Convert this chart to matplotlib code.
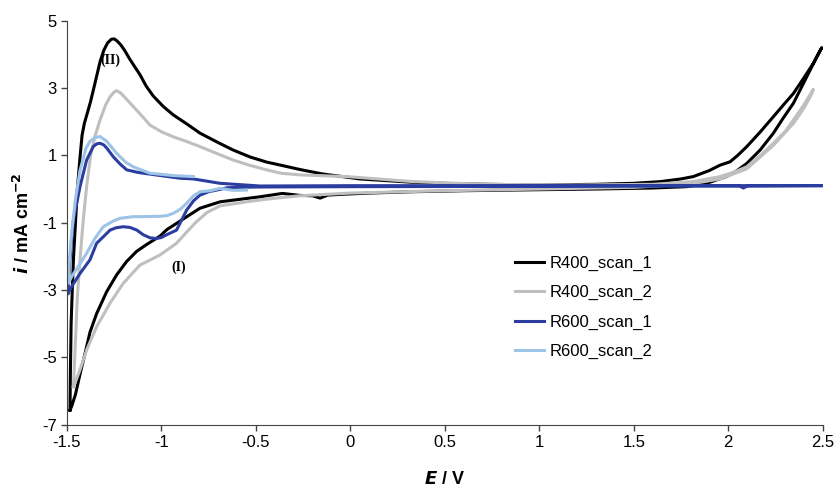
import matplotlib
matplotlib.use("Agg")
import matplotlib.pyplot as plt
from matplotlib.ticker import FuncFormatter

plt.rcParams["font.family"] = ["Liberation Sans", "DejaVu Sans"]
plt.rcParams["axes.unicode_minus"] = False

# ── Data (E in V, i in mA cm-2), each loop as one path ───────────────────────
r400_1_E = [-1.484, -1.482, -1.478, -1.472, -1.465, -1.455, -1.445, -1.43, -1.42, -1.408,
            -1.39, -1.375, -1.36, -1.343, -1.325, -1.305, -1.285, -1.265, -1.25, -1.235,
            -1.215, -1.195, -1.17, -1.14, -1.114, -1.08, -1.043,
            -0.99, -0.937, -0.87, -0.796, -0.7, -0.621, -0.53, -0.443, -0.37, -0.267,
            -0.15, 0.05, 0.33, 0.6, 1.0, 1.3, 1.5, 1.64, 1.75, 1.815, 1.9, 1.957, 2.01,
            2.05, 2.098, 2.17, 2.239, 2.3, 2.345, 2.4, 2.45, 2.495,
            2.469, 2.416, 2.345, 2.29, 2.239, 2.169, 2.098, 2.04, 1.99, 1.886, 1.78, 1.6,
            1.3, 1.0, 0.6, 0.33, 0.1, -0.02, -0.12, -0.16, -0.2, -0.267, -0.36, -0.478,
            -0.62, -0.69, -0.796, -0.86, -0.92, -0.97, -1.008, -1.079, -1.131, -1.184,
            -1.237, -1.29, -1.343, -1.378, -1.405, -1.431, -1.455, -1.475, -1.484]
r400_1_i = [-6.57, -5.5, -4.0, -3.0, -2.0, -1.0, 0.0, 1.0, 1.6, 1.95,
            2.3, 2.6, 2.95, 3.35, 3.78, 4.12, 4.34, 4.45, 4.46, 4.4,
            4.28, 4.12, 3.88, 3.62, 3.4, 3.05, 2.76,
            2.45, 2.2, 1.95, 1.66, 1.38, 1.16, 0.95, 0.8, 0.71, 0.58,
            0.45, 0.3, 0.2, 0.15, 0.12, 0.14, 0.17, 0.22, 0.3, 0.37, 0.55, 0.71, 0.81,
            1.0, 1.26, 1.7, 2.15, 2.55, 2.84, 3.3, 3.73, 4.2,
            3.93, 3.34, 2.55, 2.1, 1.66, 1.16, 0.76, 0.52, 0.37, 0.17, 0.07, 0.03,
            0.0, -0.02, -0.05, -0.08, -0.12, -0.15, -0.18, -0.27, -0.2, -0.19, -0.13, -0.23,
            -0.33, -0.38, -0.57, -0.8, -1.02, -1.2, -1.4, -1.65, -1.85, -2.15,
            -2.55, -3.05, -3.7, -4.25, -4.9, -5.5, -6.1, -6.45, -6.57]

r400_2_E = [-1.466, -1.455, -1.445, -1.431, -1.415, -1.396, -1.375, -1.35, -1.325, -1.295,
            -1.272, -1.25, -1.237, -1.215, -1.19, -1.149, -1.1, -1.061, -1.0, -0.937, -0.87,
            -0.796, -0.7, -0.62, -0.53, -0.443, -0.37, -0.267, -0.02, 0.332, 0.7, 1.2,
            1.6, 1.815, 1.957, 2.03, 2.098, 2.17, 2.239, 2.3, 2.345, 2.4, 2.45,
            2.44, 2.4, 2.345, 2.239, 2.098, 1.957, 1.8, 1.5, 1.0, 0.5, 0.0, -0.267,
            -0.443, -0.55, -0.69, -0.76, -0.82, -0.87, -0.92, -1.008, -1.114, -1.202,
            -1.272, -1.343, -1.396, -1.431, -1.458, -1.466]
r400_2_i = [-5.87, -4.5, -3.2, -2.1, -1.0, 0.07, 1.0, 1.6, 2.05, 2.5,
            2.74, 2.88, 2.92, 2.85, 2.7, 2.45, 2.15, 1.9, 1.7, 1.55, 1.42,
            1.26, 1.04, 0.86, 0.7, 0.57, 0.47, 0.42, 0.37, 0.22, 0.14, 0.12,
            0.14, 0.22, 0.37, 0.5, 0.66, 1.0, 1.36, 1.7, 2.05, 2.5, 2.96,
            2.8, 2.4, 1.95, 1.3, 0.6, 0.3, 0.15, 0.05, 0.0, -0.05, -0.12, -0.2,
            -0.3, -0.38, -0.5, -0.7, -1.0, -1.3, -1.61, -1.96, -2.26, -2.8,
            -3.39, -4.09, -4.78, -5.37, -5.77, -5.87]

r600_1_E = [-1.495, -1.49, -1.484, -1.466, -1.431, -1.396, -1.361, -1.343, -1.325, -1.305,
            -1.29, -1.255, -1.22, -1.184, -1.13, -1.096, -0.9, -0.831, -0.69, -0.478, 0.0,
            1.0, 2.0, 2.5,
            2.1, 2.08, 2.06, 1.5, 1.0, 0.0, -0.5, -0.65, -0.707, -0.75, -0.796, -0.83,
            -0.866, -0.92, -0.973, -1.0, -1.026, -1.06, -1.096, -1.13, -1.167, -1.202,
            -1.24, -1.272, -1.308, -1.343, -1.378, -1.43, -1.47, -1.495]
r600_1_i = [-3.1, -2.6, -2.1, -0.92, 0.07, 0.86, 1.26, 1.34, 1.36, 1.31,
            1.22, 0.96, 0.75, 0.57, 0.5, 0.47, 0.32, 0.3, 0.17, 0.09, 0.1,
            0.1, 0.1, 0.1,
            0.09, 0.03, 0.09, 0.09, 0.08, 0.07, 0.06, 0.04, -0.03, -0.08, -0.18, -0.35,
            -0.62, -1.22, -1.36, -1.44, -1.47, -1.45, -1.36, -1.22, -1.14, -1.12,
            -1.15, -1.22, -1.42, -1.61, -2.1, -2.5, -2.85, -3.1]

r600_2_E = [-0.55, -0.62, -0.69, -0.74, -0.796, -0.83, -0.866, -0.9, -0.937, -0.97,
            -1.008, -1.096, -1.149, -1.22, -1.255, -1.308, -1.35, -1.396, -1.44, -1.475,
            -1.493, -1.488, -1.475, -1.455, -1.431, -1.40, -1.378, -1.35, -1.325, -1.29,
            -1.237, -1.19, -1.149, -1.061, -0.937, -0.831]
r600_2_i = [-0.03, -0.04, 0.02, -0.05, -0.08, -0.2, -0.42, -0.6, -0.72, -0.79,
            -0.81, -0.82, -0.82, -0.87, -0.95, -1.12, -1.45, -1.91, -2.3, -2.6,
            -2.8, -2.2, -1.3, -0.3, 0.55, 1.2, 1.42, 1.53, 1.56, 1.42,
            1.06, 0.8, 0.66, 0.47, 0.4, 0.37]

series = [
    ("R400_scan_1", r400_1_E, r400_1_i, "#000000"),
    ("R400_scan_2", r400_2_E, r400_2_i, "#BFBFBF"),
    ("R600_scan_1", r600_1_E, r600_1_i, "#2B3EA0"),
    ("R600_scan_2", r600_2_E, r600_2_i, "#9DC3E6"),
]

fig = plt.figure(figsize=(8.35, 4.88), dpi=100)
ax = fig.add_axes([0.0802, 0.1297, 0.9051, 0.8279])

for name, E, i, c in series:
    ax.plot(E, i, color=c, lw=2.2, label=name, solid_joinstyle="round")

ax.set_xlim(-1.5, 2.5)
ax.set_ylim(-7, 5)
ax.set_xticks([-1.5, -1, -0.5, 0, 0.5, 1, 1.5, 2, 2.5])
ax.set_yticks([-7, -5, -3, -1, 1, 3, 5])
ax.xaxis.set_major_formatter(FuncFormatter(lambda v, p: f"{v:g}"))
ax.yaxis.set_major_formatter(FuncFormatter(lambda v, p: f"{v:g}"))
ax.tick_params(direction="out", length=4, width=1, color="#444444", labelsize=12)
for sp in ["top", "right"]:
    ax.spines[sp].set_visible(False)
for sp in ["bottom", "left"]:
    ax.spines[sp].set_color("#444444")

ax.set_xlabel(r"$\boldsymbol{E}$ / V", fontsize=13, fontweight="bold", labelpad=15)
ax.set_ylabel(r"$\boldsymbol{i}$ / mA cm$^{\mathbf{-2}}$", fontsize=13, fontweight="bold", labelpad=6)

ax.text(-1.272, 3.83, "(II)", family="Liberation Serif", fontweight="bold", fontsize=10,
        ha="center", va="center")
ax.text(-0.911, -2.31, "(I)", family="Liberation Serif", fontweight="bold", fontsize=10,
        ha="center", va="center")

ax.legend(loc="upper left", bbox_to_anchor=(0.573, 0.455), frameon=False, fontsize=12,
          handlelength=1.75, handletextpad=0.3, labelspacing=0.85)

fig.savefig("out.png", dpi=100)
